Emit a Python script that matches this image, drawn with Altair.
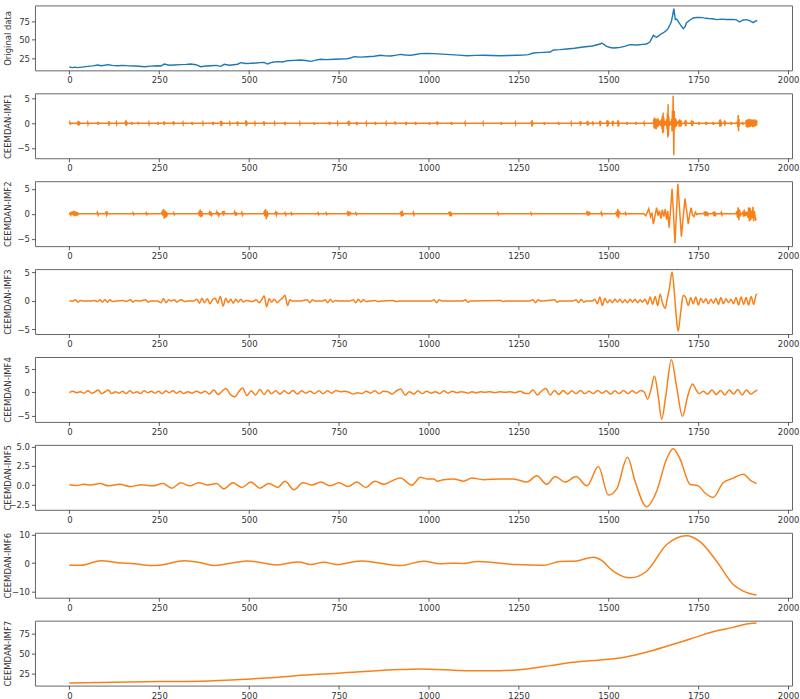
import altair as alt
import pandas as pd

# ---------------- data ----------------
XTICKS = [0, 250, 500, 750, 1000, 1250, 1500, 1750, 2000]

ORIG = [(0,12.6),(8,11.8),(16,12.4),(23,11.7),(35,12.5),(51,13.5),(65,14.2),(79,15.4),(88,14.4),(98,15.0),
        (107,15.8),(120,14.8),(134,14.4),(150,14.9),(165,14.2),(181,14.0),(195,13.6),(209,13.0),(225,13.8),
        (246,14.4),(255,14.0),(264,16.7),(278,15.0),(292,15.4),(310,15.9),(325,16.2),(338,16.7),(352,15.8),
        (366,13.0),(380,14.0),(394,14.4),(408,14.8),(421,13.5),(431,16.3),(445,15.0),(458,15.8),(468,16.4),
        (477,18.6),(490,17.5),(505,17.7),(520,18.2),(530,18.6),(542,19.0),(551,16.7),(565,19.2),(579,20.0),
        (593,19.6),(607,21.3),(625,21.8),(644,22.2),(658,21.6),(672,20.4),(686,22.0),(699,23.2),(715,22.8),
        (736,23.2),(755,23.6),(773,24.0),(782,25.0),(792,26.8),(810,26.2),(829,26.8),(848,27.4),(866,28.7),
        (880,28.0),(894,27.8),(910,29.0),(921,30.0),(935,29.2),(949,28.7),(963,29.8),(977,31.0),(995,31.2),
        (1014,31.0),(1037,30.4),(1060,29.6),(1083,29.0),(1106,28.2),(1130,28.6),(1152,28.7),(1175,28.4),
        (1199,28.2),(1222,28.5),(1245,28.7),(1262,29.0),(1277,29.6),(1291,31.9),(1305,32.4),(1320,32.8),
        (1338,33.3),(1347,36.0),(1365,36.5),(1384,37.4),(1405,38.5),(1430,40.1),(1455,41.5),(1477,44.3),
        (1481,45.7),(1488,43.5),(1495,41.0),(1505,39.5),(1514,38.8),(1523,39.2),(1532,39.7),(1545,41.0),
        (1560,43.4),(1580,43.0),(1595,43.8),(1606,44.3),(1615,47.0),(1625,56.2),(1630,54.5),(1634,53.5),
        (1639,55.0),(1643,57.1),(1652,59.5),(1662,63.1),(1667,66.5),(1671,70.9),(1675,75.0),(1678,82.4),
        (1682,93.0),(1686,77.8),(1690,78.5),(1694,75.5),(1700,71.0),(1708,65.4),(1713,68.0),(1717,73.2),
        (1726,77.0),(1736,80.1),(1745,80.8),(1754,81.0),(1765,80.2),(1778,79.5),(1790,79.0),(1801,77.8),
        (1815,78.6),(1830,78.0),(1847,78.2),(1856,77.5),(1865,74.6),(1873,77.0),(1884,77.8),(1893,76.5),
        (1903,73.7),(1910,76.0),(1914,76.4)]

# bursts: (start sample, step, values)
IMF1_BURSTS = [
    (0,1,[0,0.2,-0.2,0.2,-0.1,0]), (22,1,[0,0.3,-0.4,0.5,-0.5,0.4,-0.3,0.2,0]), (50,1,[0,0.2,-0.2,0]),
    (78,1,[0,0.3,-0.3,0.2,0]), (108,1,[0,0.4,-0.5,0.4,-0.2,0]), (130,1,[0,0.2,-0.2,0]),
    (155,1,[0,0.5,-0.5,0.6,-0.5,0.3,-0.2,0]), (172,1,[0,0.3,-0.3,0]), (190,1,[0,0.3,-0.2,0]),
    (220,1,[0,0.2,-0.2,0]), (245,1,[0,0.3,-0.3,0]), (262,1,[0,0.4,-0.4,0.2,0]), (288,1,[0,0.4,-0.4,0.3,0]),
    (315,1,[0,0.2,-0.2,0]), (340,1,[0,0.3,-0.3,0]), (370,1,[0,0.2,-0.2,0]), (398,1,[0,0.3,-0.4,0.3,0]),
    (420,1,[0,0.5,-0.6,0.5,-0.4,0.2,0]), (445,1,[0,0.2,-0.2,0]), (466,1,[0,0.4,-0.5,0.3,0]),
    (490,1,[0,0.6,-0.6,0.5,-0.3,0]), (515,1,[0,0.2,-0.2,0]), (540,1,[0,0.4,-0.5,0.3,0]),
    (570,1,[0,0.2,-0.2,0]), (598,1,[0,0.3,-0.4,0.2,0]), (640,1,[0,0.2,-0.2,0]), (680,1,[0,0.2,-0.3,0]),
    (722,1,[0,0.3,-0.3,0.2,0]), (745,1,[0,0.2,-0.2,0]), (775,1,[0,0.5,-0.5,0.5,-0.4,0.3,0]),
    (798,1,[0,0.3,-0.4,0.2,0]), (825,1,[0,0.2,-0.2,0]), (850,1,[0,0.3,-0.3,0]), (880,1,[0,0.2,-0.2,0]),
    (905,1,[0,0.4,-0.3,0]), (935,1,[0,0.3,-0.4,0.2,0]), (962,1,[0,0.3,-0.3,0]), (1000,1,[0,0.2,-0.3,0]),
    (1022,1,[0,0.4,-0.4,0.3,0]), (1062,1,[0,0.3,-0.3,0]), (1100,1,[0,0.2,-0.2,0]), (1150,1,[0,0.2,-0.2,0]),
    (1200,1,[0,0.3,-0.3,0]), (1240,1,[0,0.2,-0.2,0]), (1285,1,[0,0.5,-0.7,0.6,-0.4,0]),
    (1320,1,[0,0.2,-0.3,0]), (1360,1,[0,0.3,-0.3,0]), (1395,1,[0,0.2,-0.2,0]), (1420,1,[0,0.4,-0.5,0.4,0]),
    (1440,1,[0,0.5,-0.5,0.4,-0.3,0]), (1455,1,[0,0.4,-0.4,0]), (1475,1,[0,0.5,-0.6,0.5,0]),
    (1495,1,[0,0.6,-0.7,0.6,-0.5,0.4,0]), (1510,1,[0,0.5,-0.6,0.5,0]), (1525,1,[0,0.6,-0.7,0.5,-0.4,0]),
    (1550,1,[0,0.3,-0.3,0]), (1575,1,[0,0.3,-0.3,0]), (1598,1,[0,0.2,-0.2,0]),
    (1625,1,[0,0.8,-1.0,1.2,-1.1,0.9,-0.7,1.0,-1.2,0.8,-0.5,0.6,-0.8,1.0,-0.6,0.4,-0.3,0.5,-0.4,0.6,
             -0.5,0.3,-0.6,0.9,-1.2,1.6,-2.0,2.2,-1.8,1.2,-0.6,0.4,-0.3,0.5,-0.4,0.3,-0.5,0.8,-1.2,2.0,
             -2.9,3.9,-2.5,1.4,-0.6,0.3,-0.2,0.4,-0.3,0.2,-0.4,0.9,-1.6,2.6,-1.0,5.6,-1.5,-6.5,2.5,-1.2,
             0.6,-0.8,1.0,-0.7,0.6,-0.5,0.4,0]),
    (1695,1,[0,0.6,-0.7,0.8,-0.6,0.5,-0.7,0.6,-0.4,0]), (1712,1,[0,0.5,-0.6,0.7,-0.5,0.3,0]),
    (1730,1,[0,0.6,-0.5,0.4,-0.6,0.5,0]), (1750,1,[0,0.3,-0.3,0]), (1770,1,[0,0.3,-0.4,0.3,0]),
    (1790,1,[0,0.3,-0.3,0]), (1808,1,[0,0.6,-0.7,0.8,-0.7,0.5,-0.4,0]), (1822,1,[0,0.6,-0.5,0.4,0]),
    (1840,1,[0,0.3,-0.3,0]), (1858,1,[0,0.5,-0.8,1.7,-1.6,0.9,-0.5,0]), (1872,1,[0,0.3,-0.3,0]),
    (1882,1,[0,0.6,-0.8,0.7,-0.6,0.8,-0.9,0.7,-0.5,0.8,-0.7,0.9,-0.8,0.6,-0.5,0.7,-0.6,0.8,-0.7,0.6,
             -0.8,0.7,-0.5,0.6,-0.7,0.8,-0.6,0.5,-0.4,0.6,-0.5,0.4,0.3]),
]

IMF2_BURSTS = [
    (0,2,[-0.2,0.1,-0.3,0.2,0,0.3,-0.4,0.5,-0.5,0.4,-0.4,0.3,-0.2,0]), (76,2,[0,0.3,-0.3,0]),
    (100,2,[0,0.3,-0.3,0.2,0]), (175,2,[0,0.2,-0.2,0]), (212,2,[0,0.2,-0.2,0]),
    (256,2,[0,0.3,-0.4,0.9,-1.0,0.6,-0.8,0.4,-0.3,0]), (288,2,[0,0.2,-0.2,0]),
    (358,2,[0,0.4,-0.5,0.8,-0.7,0.5,-0.3,0]), (388,2,[0,0.3,-0.4,0.4,-0.3,0]),
    (408,2,[0,0.4,-0.3,0.3,-0.4,0]), (425,2,[0,0.5,-0.4,0.3,0]), (458,2,[0,0.4,-0.4,0.3,-0.2,0]),
    (478,2,[0,0.3,-0.3,0]), (540,2,[0,0.3,-0.5,0.9,-1.1,0.5,-0.3,0]), (572,2,[0,0.3,-0.3,0.2,0]),
    (598,2,[0,0.2,-0.3,0]), (615,2,[0,0.2,-0.2,0]), (690,2,[0,0.2,-0.2,0]), (712,2,[0,0.2,-0.2,0]),
    (772,2,[0,0.3,-0.5,0.4,-0.3,0.2,0]), (795,2,[0,0.2,-0.2,0]), (920,2,[0,0.4,-0.6,0.6,-0.4,0]),
    (955,2,[0,0.3,-0.3,0]), (1055,2,[0,0.4,-0.5,0.4,-0.3,0]), (1190,2,[0,0.2,-0.2,0]),
    (1282,2,[0,0.2,-0.2,0]), (1438,2,[0,0.3,-0.4,0.4,-0.3,0.2,0]), (1478,2,[0,0.3,-0.3,0]),
    (1520,2,[0,0.4,-0.6,0.9,-0.9,0.5,0]), (1545,2,[0,0.2,-0.2,0]),
    (1765,2,[0,0.4,-0.5,0.5,-0.4,0.3,-0.3,0]), (1790,2,[0,0.4,-0.5,0.4,-0.3,0]), (1812,2,[0,0.3,-0.3,0]),
    (1855,2,[0,0.5,-0.8,1.3,-1.3,0.8,-0.5,0]),
    (1872,2,[0,0.4,-0.6,0.8,-0.5,0.3,-0.4,0.4,-0.8,1.3,-1.5,1.2,-1.3,0.6,-0.9,1.4,-1.5,0.5,-0.6,-1.2,-1.0]),
]
IMF2_BIG_X = [1598,1604,1608,1612,1617,1621,1625,1630,1634,1638,1642,1646,1650,1654,1658,1662,1665,1669,
              1673,1677,1681,1685,1689,1693,1698,1703,1708,1713,1718,1722,1726,1730,1734,1738,1742,1746,1750]
IMF2_BIG_Y = [0,-0.4,0.3,1.0,-0.6,0.2,-2.1,-0.3,1.2,-0.4,0.6,-1.0,0.8,-0.6,0.9,-1.2,0.5,-2.8,
              1.0,5.0,0.0,-5.9,0.0,6.0,0.8,-4.6,-0.6,3.0,0.3,-2.1,-0.2,1.2,-0.3,-0.6,0.3,-0.2,0]

IMF3 = [(0,0),(10,0),(17,0.2),(24,-0.2),(31,0.1),(40,0),(60,0),(70,0.1),(78,-0.1),(85,0.2),(92,-0.2),
        (99,0.25),(106,-0.2),(113,0.2),(120,-0.1),(130,0),(150,0.1),(157,-0.1),(170,0.2),(177,-0.2),
        (184,0.1),(195,0),(212,0.2),(219,-0.2),(226,0),(245,0),(255,-0.3),(262,0.4),(269,-0.3),(276,0.2),
        (283,0),(292,0.2),(299,-0.2),(306,0.1),(313,0.2),(320,-0.1),(330,0),(345,0),(355,0.3),(362,-0.4),
        (369,0.5),(376,-0.3),(384,0.4),(391,-0.5),(398,0.2),(406,0.5),(413,-0.4),(420,0.8),(428,-0.9),
        (435,0.5),(442,-0.3),(449,0.3),(456,-0.4),(463,0.3),(470,-0.2),(477,0.3),(484,-0.2),(492,0.1),
        (500,0),(510,-0.1),(520,0.2),(528,-0.3),(535,0.2),(542,0.9),(549,-1.0),(556,0.4),(563,-0.2),
        (570,0.3),(578,-0.3),(585,0.1),(593,0.5),(600,1.0),(607,-0.8),(614,0.2),(620,0),(640,0),(662,0.2),
        (669,-0.3),(676,0.2),(683,0),(705,0),(712,0.2),(719,-0.3),(726,0.3),(733,-0.2),(740,0.1),(750,0),
        (780,0),(790,0.2),(797,-0.3),(804,0.3),(811,-0.2),(818,0.2),(826,-0.1),(835,0),(850,0.1),
        (857,-0.1),(870,0),(900,0.1),(910,-0.1),(920,0),(1008,0),(1015,0.2),(1022,-0.3),(1029,0.2),
        (1036,0),(1095,0),(1102,0.2),(1109,-0.2),(1116,0),(1200,0.1),(1207,-0.1),(1215,0),(1280,0),
        (1290,0.2),(1297,-0.3),(1304,0.2),(1311,0),(1350,0.2),(1357,-0.2),(1364,0),(1400,0),(1410,0.2),
        (1417,-0.3),(1424,0.3),(1431,-0.2),(1438,0),(1455,0),(1462,0.3),(1469,-0.5),(1476,0.7),(1483,-0.8),
        (1490,0.5),(1497,-0.3),(1504,0.2),(1511,-0.3),(1518,0.3),(1525,-0.2),(1532,0.3),(1539,-0.3),
        (1546,0.2),(1553,-0.3),(1560,0.3),(1567,-0.2),(1574,0.3),(1581,-0.3),(1588,0.2),(1595,-0.2),
        (1602,0.3),(1609,-0.6),(1616,0.7),(1623,-0.6),(1630,0.8),(1637,-0.8),(1644,1.2),(1651,-0.5),
        (1658,-1.3),(1664,0.5),(1670,2.4),(1677,5.1),(1684,1.0),(1689,-3.0),(1694,-5.3),(1701,-2.0),
        (1708,1.0),(1715,0.6),(1722,-0.8),(1729,0.6),(1736,-0.5),(1743,0.7),(1750,-0.7),(1757,0.5),
        (1764,-0.3),(1771,0.4),(1778,-0.5),(1785,0.3),(1792,-0.4),(1799,0.5),(1806,-0.6),(1813,0.6),
        (1820,-0.5),(1827,0.4),(1834,-0.3),(1841,0.3),(1848,-0.5),(1855,0.6),(1862,-0.7),(1869,0.7),
        (1876,-0.6),(1883,0.6),(1890,-0.7),(1897,0.8),(1904,-0.6),(1911,1.1),(1914,1.2)]

IMF4 = [(0,-0.1),(10,0.2),(20,-0.1),(30,0.1),(40,-0.2),(52,0.3),(62,-0.2),(72,0.1),(80,0.5),(90,-0.3),
        (100,0.1),(108,0.5),(118,-0.3),(128,0.1),(138,-0.2),(148,0.2),(158,-0.3),(168,0.3),(178,-0.2),
        (188,0.1),(198,-0.3),(208,0.3),(218,-0.1),(228,0.2),(238,-0.2),(248,0.2),(258,-0.3),(268,0.3),
        (278,-0.1),(288,0.3),(298,-0.2),(308,0.2),(318,-0.3),(330,0.1),(342,-0.2),(354,0.2),(366,-0.2),
        (378,0.2),(390,-0.4),(402,0.5),(414,-0.5),(426,0.3),(436,0.8),(448,-0.5),(460,-1.0),(472,0.2),
        (482,0.9),(494,-0.7),(506,0.3),(518,-0.6),(530,0.6),(542,-0.5),(552,0.5),(562,-0.3),(574,0.3),
        (586,-0.4),(598,0.3),(610,-0.3),(622,0.4),(634,-0.4),(646,0.3),(658,-0.2),(670,0.2),(682,-0.3),
        (694,0.3),(706,-0.3),(718,0.3),(730,-0.2),(742,0.4),(754,0.1),(766,0.2),(778,0.0),(790,-0.4),
        (802,-0.1),(814,-0.3),(826,0.2),(838,-0.2),(850,0.3),(862,-0.3),(874,0.2),(886,0.1),(898,-0.4),
        (910,0.3),(922,0.7),(934,-0.6),(946,0.1),(958,-0.4),(970,0.3),(982,-0.3),(994,0.2),(1006,-0.2),
        (1018,0.1),(1030,-0.3),(1042,0.3),(1054,-0.2),(1066,0.2),(1078,-0.1),(1090,0.1),(1100,0),
        (1110,-0.2),(1120,0.1),(1132,-0.1),(1144,0.1),(1156,0.0),(1170,0.1),(1184,-0.1),(1198,0.1),
        (1212,0.0),(1226,0.1),(1240,-0.1),(1254,0.2),(1266,-0.2),(1278,-0.3),(1290,0.5),(1302,-0.6),
        (1314,0.3),(1326,0.8),(1338,-0.6),(1350,0.4),(1362,-0.5),(1374,0.4),(1386,-0.4),(1398,0.3),
        (1410,-0.3),(1422,0.4),(1434,-0.3),(1446,0.2),(1458,-0.3),(1470,0.4),(1482,-0.2),(1494,0.3),
        (1506,-0.4),(1518,0.3),(1530,-0.3),(1542,0.4),(1554,-0.3),(1566,0.3),(1578,-0.2),(1590,0.4),
        (1600,0.0),(1609,-1.5),(1618,0.5),(1628,3.5),(1638,-0.5),(1648,-5.8),(1660,-0.5),(1675,7.0),
        (1690,1.0),(1706,-5.2),(1720,-1.0),(1734,1.8),(1744,0.5),(1752,-0.3),(1764,0.2),(1776,-0.4),
        (1788,0.5),(1800,-0.5),(1812,0.4),(1824,-0.6),(1836,0.5),(1848,-0.4),(1860,0.6),(1872,-0.6),
        (1884,0.5),(1896,-0.4),(1906,0.1),(1914,0.5)]

IMF5 = [(0,0.05),(20,-0.05),(40,0.1),(60,0.0),(85,0.2),(110,-0.1),(140,0.1),(170,-0.2),(200,0.05),
        (230,-0.1),(260,0.2),(285,-0.4),(310,0.3),(335,-0.1),(360,0.3),(385,0.0),(410,0.2),(430,-0.5),
        (455,0.3),(480,-0.3),(505,0.4),(530,-0.4),(555,0.2),(580,-0.3),(600,0.5),(625,-0.6),(650,0.3),
        (675,0.0),(700,0.4),(725,-0.1),(750,0.3),(775,-0.2),(800,0.4),(825,-0.3),(850,0.5),(875,0.1),
        (900,0.6),(921,0.9),(953,0.0),(977,1.0),(995,0.8),(1014,0.8),(1023,0.5),(1041,0.7),(1069,0.8),
        (1097,0.5),(1120,0.9),(1152,0.7),(1199,0.8),(1236,0.8),(1273,0.4),(1301,1.2),(1328,0.1),
        (1352,1.1),(1379,0.4),(1410,1.1),(1440,-0.1),(1472,2.4),(1500,-1.3),(1523,-0.5),(1553,3.6),
        (1574,0.5),(1606,-2.8),(1634,-0.8),(1662,3.4),(1680,4.7),(1699,3.4),(1727,0.1),(1750,-0.1),
        (1768,-1.0),(1791,-1.6),(1819,0.3),(1847,0.9),(1875,1.4),(1898,0.5),(1912,0.2)]

IMF6 = [(0,-0.7),(32,-0.7),(88,0.9),(134,0.2),(181,-0.2),(227,-0.8),(250,-0.7),(320,0.9),(366,0.2),
        (403,-0.8),(440,-0.2),(495,0.8),(542,0.0),(579,-0.6),(625,0.35),(639,0.45),(671,-0.46),(708,0.35),
        (745,-0.46),(810,0.8),(857,0.2),(921,-0.8),(986,0.7),(1032,-0.2),(1060,0.0),(1097,-0.1),(1134,0.6),
        (1199,0.0),(1245,-0.46),(1319,-0.7),(1365,0.6),(1412,0.8),(1458,2.1),(1477,1.3),(1514,-2.8),
        (1560,-5.1),(1606,-2.8),(1662,6.5),(1717,9.6),(1754,7.6),(1801,0.7),(1847,-7.4),(1875,-9.7),
        (1912,-11.1)]

IMF7 = [(0,12.9),(250,14.6),(366,15.0),(505,17.9),(616,21.3),(644,22.5),(745,25.0),(921,29.6),(977,30.4),
        (1106,28.3),(1199,28.3),(1273,30.4),(1338,34.6),(1403,38.75),(1477,41.7),(1532,44.2),(1597,50.4),
        (1662,58.75),(1727,67.9),(1791,77.1),(1847,82.5),(1884,86.7),(1912,87.9)]

BLUE = "#1f77b4"
ORANGE = "#f98018"


def from_bursts(bursts, extra=()):
    pts = list(extra)
    for start, step, vals in bursts:
        for i, v in enumerate(vals):
            pts.append((start + i * step, v))
    pts.sort(key=lambda p: p[0])
    return pts


XDOM = [-95.75, 2010.75]
W, H = 758, 65


def panel(points, title, ydom, yticks, color, fmt="d", interp="linear", sw=1.5):
    df = pd.DataFrame(points, columns=["t", "v"])
    return (
        alt.Chart(df)
        .mark_line(color=color, strokeWidth=sw, interpolate=interp, clip=True)
        .encode(
            x=alt.X("t:Q", scale=alt.Scale(domain=XDOM, nice=False, zero=False),
                    axis=alt.Axis(values=XTICKS, format="d", title=None)),
            y=alt.Y("v:Q", scale=alt.Scale(domain=ydom, nice=False, zero=False),
                    axis=alt.Axis(values=yticks, format=fmt, title=title,
                                  titleX=-27, titleY=H / 2, titleBaseline="middle",
                                  titleAlign="center", titleAngle=270)),
        )
        .properties(width=W, height=H)
    )


panels = [
    panel(ORIG, "Original data", [8, 97.4], [25, 50, 75], BLUE, sw=1.4),
    panel(from_bursts(IMF1_BURSTS), "CEEMDAN-IMF1", [-7.1, 6.1], [-5, 0, 5], ORANGE),
    panel(from_bursts(IMF2_BURSTS, zip(IMF2_BIG_X, IMF2_BIG_Y)), "CEEMDAN-IMF2", [-6.5, 6.5], [-5, 0, 5], ORANGE),
    panel(IMF3, "CEEMDAN-IMF3", [-5.8, 5.6], [-5, 0, 5], ORANGE, interp="monotone"),
    panel(IMF4, "CEEMDAN-IMF4", [-6.4, 7.6], [-5, 0, 5], ORANGE, interp="monotone"),
    panel(IMF5, "CEEMDAN-IMF5", [-3.2, 5.2], [-2.5, 0, 2.5, 5.0], ORANGE, fmt=".1f", interp="monotone"),
    panel(IMF6, "CEEMDAN-IMF6", [-12, 10.6], [-10, 0, 10], ORANGE, interp="monotone"),
    panel(IMF7, "CEEMDAN-IMF7", [9.6, 90.9], [25, 50, 75], ORANGE, interp="monotone"),
]

chart = (
    alt.vconcat(*panels, spacing=23, bounds="flush")
    .properties(padding={"left": 3, "top": 4, "right": 0, "bottom": 0}, background="white")
    .configure_view(stroke="#666666", strokeWidth=1)
    .configure_axis(
        grid=False, domain=False,
        labelFont="DejaVu Sans", labelFontSize=8.5, labelColor="#333333", labelPadding=2,
        tickColor="#333333", tickWidth=0.8, tickSize=3.5,
        titleFont="DejaVu Sans", titleFontSize=8.5, titleFontWeight="normal", titleColor="#333333",
    )
)

chart.save("out.html", embed_options={"renderer": "svg", "actions": False})
